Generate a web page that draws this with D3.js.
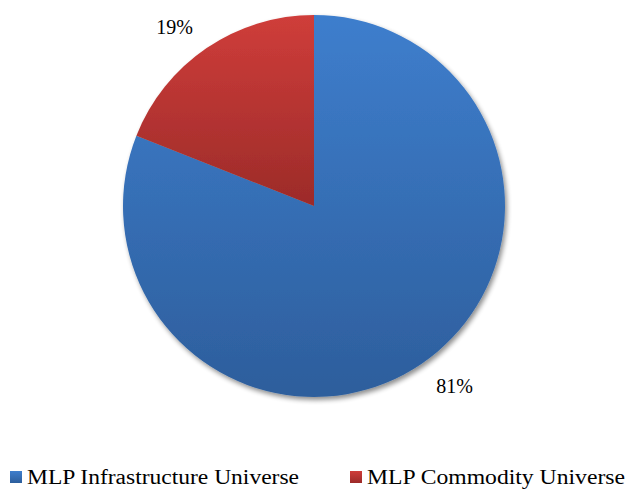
<!DOCTYPE html>
<html>
<head>
<meta charset="utf-8">
<script src="https://cdn.jsdelivr.net/npm/d3@7/dist/d3.min.js"></script>
<style>
  html, body { margin: 0; padding: 0; background: #fff; }
  svg { display: block; }
</style>
</head>
<body>
<svg id="chart" width="628" height="490"></svg>
<script>
// Universe split
const categories = ["MLP Infrastructure Universe", "MLP Commodity Universe"];
const shares = [81, 19];
const labels = ["81%", "19%"];
const topColors = ["#3e7ecd", "#cf3d3a"];
const bottomColors = ["#2d5e9c", "#9c2b29"];

const FONT = "'Liberation Serif', 'Times New Roman', serif";

const svg = d3.select("#chart");
const cx = 314, cy = 206, radius = 191;

const defs = svg.append("defs");
categories.forEach((c, i) => {
  const g = defs.append("linearGradient")
    .attr("id", "grad" + i)
    .attr("x1", 0).attr("y1", 0).attr("x2", 0).attr("y2", 1);
  g.append("stop").attr("offset", "0%").attr("stop-color", topColors[i]);
  g.append("stop").attr("offset", "100%").attr("stop-color", bottomColors[i]);
});

const shadow = defs.append("filter").attr("id", "shadow")
  .attr("x", "-10%").attr("y", "-10%").attr("width", "125%").attr("height", "125%");
shadow.append("feGaussianBlur").attr("in", "SourceAlpha").attr("stdDeviation", 2.5).attr("result", "blur");
shadow.append("feOffset").attr("in", "blur").attr("dx", 2).attr("dy", 3).attr("result", "off");
shadow.append("feComponentTransfer").attr("in", "off").attr("result", "shade")
  .append("feFuncA").attr("type", "linear").attr("slope", 0.45);
const merge = shadow.append("feMerge");
merge.append("feMergeNode").attr("in", "shade");
merge.append("feMergeNode").attr("in", "SourceGraphic");

// Clockwise from 12 o'clock
const pie = d3.pie().sort(null).value(d => d.value);
const data = categories.map((c, i) => ({ name: c, value: shares[i], i }));
const arcs = pie(data);

const arc = d3.arc().innerRadius(0).outerRadius(radius);

const g = svg.append("g").attr("transform", `translate(${cx},${cy})`);
g.append("g").attr("filter", "url(#shadow)")
  .selectAll("path")
  .data(arcs)
  .join("path")
  .attr("d", arc)
  .attr("fill", d => `url(#grad${d.data.i})`);

// Percentage labels placed outside the rim
const labelArc = d3.arc().innerRadius(radius * 1.16).outerRadius(radius * 1.16);
const labelShift = [[16, -3], [-15, 4]];
g.selectAll("text.pct")
  .data(arcs)
  .join("text")
  .attr("class", "pct")
  .attr("transform", d => {
    const p = labelArc.centroid(d);
    const s = labelShift[d.data.i];
    return `translate(${p[0] + s[0]},${p[1] + s[1]})`;
  })
  .attr("text-anchor", "middle")
  .attr("dy", "0.35em")
  .attr("font-family", FONT)
  .attr("font-size", 20)
  .attr("fill", "#000")
  .text(d => labels[d.data.i]);

// Legend
const legendX = [10, 350];
const legendTextWidth = [272, 258];
const legend = svg.append("g");
categories.forEach((c, i) => {
  const item = legend.append("g").attr("transform", `translate(${legendX[i]},471)`);
  item.append("rect").attr("width", 12).attr("height", 12)
    .attr("fill", `url(#grad${i})`);
  item.append("text").attr("x", 17).attr("y", 13)
    .attr("font-family", FONT)
    .attr("font-size", 20)
    .attr("textLength", legendTextWidth[i])
    .attr("lengthAdjust", "spacingAndGlyphs")
    .attr("fill", "#000")
    .text(c);
});
</script>
</body>
</html>
